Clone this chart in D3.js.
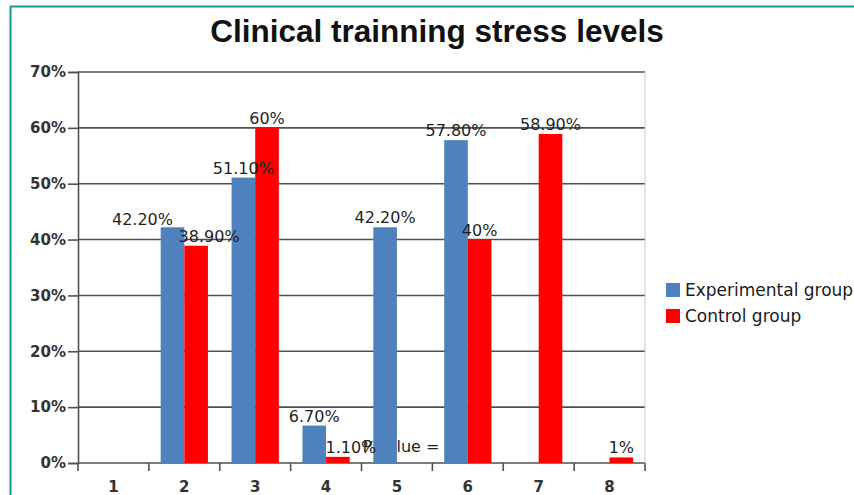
<!DOCTYPE html>
<html>
<head>
<meta charset="utf-8">
<script src="https://cdn.jsdelivr.net/npm/d3@7"></script>
<style>
  body { margin: 0; background: #fff; }
</style>
</head>
<body>
<div id="chart"></div>
<script>
// chart data
var categories = ["1", "2", "3", "4", "5", "6", "7", "8"];
var experimental = [0, 42.2, 51.1, 6.7, 42.2, 57.8, 0, 0];
var control = [0, 38.9, 60, 1.1, 0, 40, 58.9, 1];
var experimentalLabels = ["", "42.20%", "51.10%", "6.70%", "42.20%", "57.80%", "", ""];
var controlLabels = ["", "38.90%", "60%", "1.10%", "", "40%", "58.90%", "1%"];
var yTicks = [0, 10, 20, 30, 40, 50, 60, 70];
var seriesNames = ["Experimental group", "Control group"];
var title = "Clinical trainning stress levels";
var note = "P value = 0";

var svgWidth = 854;
var svgHeight = 495;

var margin = { top: 72, right: 209, bottom: 32, left: 78 };
var width = svgWidth - margin.left - margin.right;
var height = svgHeight - margin.top - margin.bottom;

var colors = ["#4f81bd", "#ff0000"];

var svg = d3.select("#chart")
  .append("svg")
  .attr("width", svgWidth)
  .attr("height", svgHeight);

// teal frame round the chart
svg.append("line")
  .attr("x1", 10.5).attr("x2", 10.5)
  .attr("y1", 6).attr("y2", svgHeight)
  .attr("stroke", "#1b9690").attr("stroke-width", 2);
svg.append("line")
  .attr("x1", 10).attr("x2", svgWidth)
  .attr("y1", 6.5).attr("y2", 6.5)
  .attr("stroke", "#1b9690").attr("stroke-width", 2);

svg.append("text")
  .attr("x", 437)
  .attr("y", 42)
  .attr("text-anchor", "middle")
  .style("font-family", "'Liberation Sans', Arial, sans-serif")
  .style("font-weight", "bold")
  .style("font-size", "31.5px")
  .attr("fill", "#111")
  .text(title);

var chartGroup = svg.append("g")
  .attr("transform", `translate(${margin.left}, ${margin.top})`);

var x = d3.scaleBand()
  .domain(categories)
  .range([0, width])
  .paddingInner(0)
  .paddingOuter(0);

var y = d3.scaleLinear()
  .domain([0, 70])
  .range([height, 0]);

var bw = x.bandwidth();

// gridlines
chartGroup.selectAll(".grid")
  .data(yTicks)
  .enter()
  .append("line")
  .attr("class", "grid")
  .attr("x1", 0).attr("x2", width)
  .attr("y1", d => y(d)).attr("y2", d => y(d))
  .attr("stroke", "#505050")
  .attr("stroke-width", 1.6);

// right edge of plot area
chartGroup.append("line")
  .attr("x1", width).attr("x2", width)
  .attr("y1", 0).attr("y2", height)
  .attr("stroke", "#c8c8c8");

// p value note sits behind the bars
chartGroup.append("text")
  .attr("x", x("5") + 1)
  .attr("y", y(0) - 11)
  .style("font-family", "'DejaVu Sans', sans-serif")
  .style("font-size", "16px")
  .attr("fill", "#1f1f1f")
  .text(note);

var series = [experimental, control];

series.forEach(function(values, s) {
  var rows = categories.map(function(c, i) { return { cat: c, value: values[i] }; })
    .filter(d => d.value > 0);
  chartGroup.selectAll(".bar" + s)
    .data(rows)
    .enter()
    .append("rect")
    .attr("class", "bar" + s)
    .attr("x", d => x(d.cat) + bw / 6 + s * bw / 3)
    .attr("y", d => y(d.value))
    .attr("width", bw / 3)
    .attr("height", d => y(0) - y(d.value))
    .attr("fill", colors[s]);
});

// data labels (a few were dragged aside in the original)
var nudge = { "0-1": [-30, 2], "1-1": [13, 0], "1-3": [13, 0] };
var labelSets = [experimentalLabels, controlLabels];

labelSets.forEach(function(labels, s) {
  var vals = series[s];
  categories.forEach(function(c, i) {
    if (!labels[i]) return;
    var n = nudge[s + "-" + i] || [0, 0];
    chartGroup.append("text")
      .attr("x", x(c) + bw / 3 + s * bw / 3 + n[0])
      .attr("y", y(vals[i]) - 4 + n[1])
      .attr("text-anchor", "middle")
      .style("font-family", "'DejaVu Sans', sans-serif")
      .style("font-size", "16px")
      .attr("fill", "#1f1f1f")
      .text(labels[i]);
  });
});

// y axis
var yAxis = d3.axisLeft(y)
  .tickValues(yTicks)
  .tickFormat(d => d + "%")
  .tickSize(10)
  .tickPadding(2);

var yAxisG = chartGroup.append("g").call(yAxis);
yAxisG.select(".domain").attr("stroke", "#505050").attr("stroke-width", 1.6);
yAxisG.selectAll(".tick line").attr("stroke", "#505050").attr("stroke-width", 1.6);
yAxisG.selectAll(".tick text")
  .style("font-family", "'DejaVu Sans', sans-serif")
  .style("font-weight", "bold")
  .style("font-size", "15px")
  .attr("fill", "#333");

// x axis: labels at band centres, ticks on band edges
var xAxis = d3.axisBottom(x).tickSize(0).tickPadding(18);
var xAxisG = chartGroup.append("g")
  .attr("transform", `translate(0, ${height})`)
  .call(xAxis);
xAxisG.select(".domain").remove();
xAxisG.selectAll(".tick text")
  .style("font-family", "'DejaVu Sans', sans-serif")
  .style("font-weight", "bold")
  .style("font-size", "15px")
  .attr("fill", "#333");

var edges = categories.map(c => x(c)).concat([width]);
xAxisG.selectAll(".edge")
  .data(edges)
  .enter()
  .append("line")
  .attr("class", "edge")
  .attr("x1", d => d).attr("x2", d => d)
  .attr("y1", 0).attr("y2", 8)
  .attr("stroke", "#505050")
  .attr("stroke-width", 1.6);

// legend
var legend = svg.append("g")
  .attr("transform", "translate(666, 283)");

seriesNames.forEach(function(name, i) {
  legend.append("rect")
    .attr("x", 0)
    .attr("y", i * 26)
    .attr("width", 14)
    .attr("height", 14)
    .attr("fill", colors[i]);
  legend.append("text")
    .attr("x", 19)
    .attr("y", i * 26 + 13)
    .style("font-family", "'DejaVu Sans', sans-serif")
    .style("font-size", "17px")
    .attr("fill", "#1a1a1a")
    .text(name);
});
</script>
</body>
</html>
